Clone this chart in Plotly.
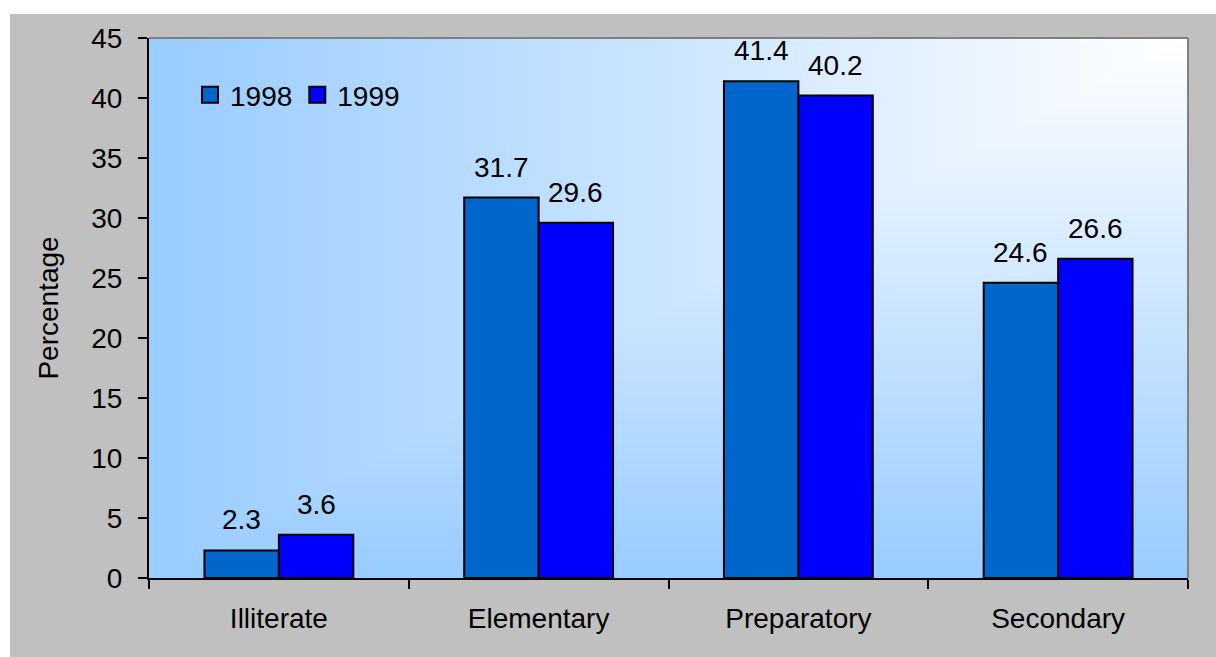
import base64
import struct
import zlib

import plotly.graph_objects as go

# ---- data -------------------------------------------------------------
categories = ["Illiterate", "Elementary", "Preparatory", "Secondary"]
years = ["1998", "1999"]
values_1998 = [2.3, 31.7, 41.4, 24.6]
values_1999 = [3.6, 29.6, 40.2, 26.6]
y_ticks = [0, 5, 10, 15, 20, 25, 30, 35, 40, 45]

# ---- styling ----------------------------------------------------------
FONT = "Liberation Sans, Arial, sans-serif"
FS = 28
COLOR_1998 = "#0066CC"
COLOR_1999 = "#0000FF"
FRAME_GRAY = "#C0C0C0"

W, H = 1216, 657
L, R, T, B = 149, 28, 38, 79
PW, PH = W - L - R, H - T - B


def corner_gradient_png(w, h, c0=(153, 204, 255), c1=(255, 255, 255)):
    """Corner gradient: light blue along left/bottom edges fading to white at top-right."""
    rows = []
    for j in range(h):
        v = 1 - j / (h - 1)  # 1 at top
        row = bytearray()
        for i in range(w):
            u = i / (w - 1)
            t = min(u, v)
            row += bytes(int(round(a + (b - a) * t)) for a, b in zip(c0, c1))
        rows.append(b"\x00" + bytes(row))
    raw = zlib.compress(b"".join(rows), 9)

    def chunk(tag, data):
        return (struct.pack(">I", len(data)) + tag + data
                + struct.pack(">I", zlib.crc32(tag + data) & 0xFFFFFFFF))

    png = (b"\x89PNG\r\n\x1a\n"
           + chunk(b"IHDR", struct.pack(">IIBBBBB", w, h, 8, 2, 0, 0, 0))
           + chunk(b"IDAT", raw)
           + chunk(b"IEND", b""))
    return "data:image/png;base64," + base64.b64encode(png).decode()


def px_x(p):
    return (p - L) / PW


def px_y(p):
    return (H - B - p) / PH


fig = go.Figure()

bar_line = dict(color="black", width=2)
fig.add_trace(go.Bar(x=categories, y=values_1998, name=years[0],
                     marker=dict(color=COLOR_1998, line=bar_line),
                     showlegend=False, hoverinfo="x+y"))
fig.add_trace(go.Bar(x=categories, y=values_1999, name=years[1],
                     marker=dict(color=COLOR_1999, line=bar_line),
                     showlegend=False, hoverinfo="x+y"))

# legend entries with square swatches
for name, col in zip(years, [COLOR_1998, COLOR_1999]):
    fig.add_trace(go.Scatter(x=[None], y=[None], mode="markers", name=name,
                             marker=dict(symbol="square", size=16, color=col,
                                         line=dict(color="black", width=2))))

BARGAP = 0.427
bar_px = PW / len(categories) * (1 - BARGAP) / 2

# value labels above each bar
annotations = []
for vals, sign in [(values_1998, -1), (values_1999, 1)]:
    for cat, v in zip(categories, vals):
        annotations.append(dict(
            x=cat, y=v, xref="x", yref="y", text=f"{v:.1f}",
            showarrow=False, yanchor="bottom", xanchor="center",
            xshift=sign * bar_px / 2, yshift=13,
            font=dict(family=FONT, size=FS, color="black")))

shapes = [
    # white strips around the grey chart frame
    dict(type="rect", xref="paper", yref="paper", layer="below",
         x0=px_x(0), x1=px_x(10), y0=px_y(H), y1=px_y(0),
         fillcolor="white", line=dict(width=0)),
    dict(type="rect", xref="paper", yref="paper", layer="below",
         x0=px_x(0), x1=px_x(W), y0=px_y(14), y1=px_y(0),
         fillcolor="white", line=dict(width=0)),
    # plot-area border on top and right
    dict(type="line", xref="paper", yref="paper", layer="above",
         x0=0, x1=1, y0=1, y1=1, line=dict(color="#808080", width=2)),
    dict(type="line", xref="paper", yref="paper", layer="above",
         x0=1, x1=1, y0=0, y1=1, line=dict(color="#808080", width=2)),
]

fig.update_layout(
    width=W, height=H,
    margin=dict(l=L, r=R, t=T, b=B, pad=0),
    paper_bgcolor=FRAME_GRAY,
    plot_bgcolor="#99CCFF",
    barmode="group", bargap=BARGAP, bargroupgap=0,
    font=dict(family=FONT, size=FS, color="black"),
    showlegend=True,
    legend=dict(orientation="h", x=px_x(190), y=px_y(70),
                xanchor="left", yanchor="top",
                bgcolor="rgba(0,0,0,0)", font=dict(family=FONT, size=FS),
                itemclick=False, itemdoubleclick=False),
    images=[dict(source=corner_gradient_png(260, 135), xref="paper", yref="paper",
                 x=0, y=1, sizex=1, sizey=1, sizing="stretch",
                 xanchor="left", yanchor="top", layer="below")],
    shapes=shapes,
    annotations=annotations,
    xaxis=dict(type="category", showline=True, linecolor="black", linewidth=2,
               ticks="outside", tickson="boundaries", ticklen=9, tickwidth=2,
               tickcolor="black", showgrid=False, zeroline=False,
               ticklabelstandoff=14, tickfont=dict(family=FONT, size=FS)),
    yaxis=dict(range=[0, 45], tickvals=y_ticks, showline=True, linecolor="black",
               linewidth=2, ticks="outside", ticklen=9, tickwidth=2,
               tickcolor="black", showgrid=False, zeroline=False,
               ticklabelstandoff=10, tickfont=dict(family=FONT, size=FS),
               title=dict(text="Percentage", standoff=24,
                          font=dict(family=FONT, size=FS))),
)

fig.write_html("out.html")
